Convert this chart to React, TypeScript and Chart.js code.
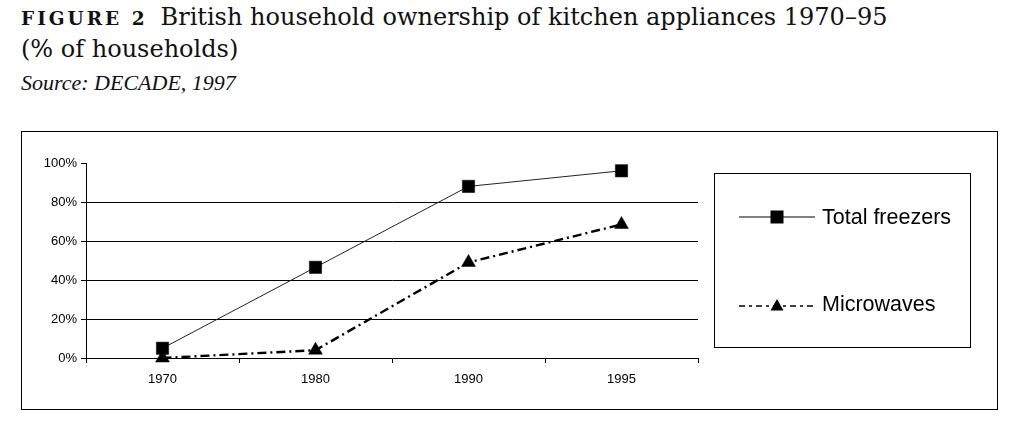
import React, { useEffect, useRef } from "react";
import { Chart, registerables } from "chart.js";

Chart.register(...registerables);

const categories = ["1970", "1980", "1990", "1995"];
const freezers = [5, 46.5, 88, 96];
const microwaves = [0, 4, 49, 68.5];
const yTicks = [0, 20, 40, 60, 80, 100];

export default function App() {
  const ref = useRef<HTMLCanvasElement | null>(null);

  useEffect(() => {
    if (!ref.current) return;
    const chart = new Chart(ref.current, {
      type: "line",
      data: {
        labels: categories,
        datasets: [
          {
            label: "Total freezers",
            data: freezers,
            borderColor: "#222",
            borderWidth: 1,
            pointStyle: "rect",
            pointRadius: 8.7,
            pointBackgroundColor: "#000",
            pointBorderColor: "#000",
            pointBorderWidth: 0.5,
            tension: 0,
            clip: false as any,
          },
          {
            label: "Microwaves",
            data: microwaves,
            borderColor: "#000",
            borderWidth: 2.4,
            borderDash: [9, 4, 2, 4],
            pointStyle: "triangle",
            pointRadius: 8,
            pointBackgroundColor: "#000",
            pointBorderColor: "#000",
            pointBorderWidth: 0.5,
            tension: 0,
            clip: false as any,
          },
        ],
      },
      options: {
        animation: false,
        responsive: false,
        maintainAspectRatio: false,
        layout: { padding: { left: 0, top: 163, right: 317, bottom: 0 } },
        plugins: { legend: { display: false }, tooltip: { enabled: false } },
        scales: {
          x: {
            type: "category",
            offset: true,
            grid: {
              offset: true,
              drawOnChartArea: false,
              drawTicks: true,
              tickLength: 5,
              tickColor: "#000",
              tickWidth: 1,
            },
            border: { color: "#000", width: 1 },
            ticks: {
              color: "#000",
              padding: 9,
              font: { family: "Liberation Sans, Arial, sans-serif", size: 13 },
              maxRotation: 0,
            },
            afterFit: (s: any) => {
              s.height = 69;
            },
          },
          y: {
            min: 0,
            max: 100,
            afterBuildTicks: (s: any) => {
              s.ticks = yTicks.map((v) => ({ value: v }));
            },
            grid: {
              color: (c: any) =>
                c.tick && (c.tick.value === 100 || c.tick.value === 0) ? "rgba(0,0,0,0)" : "#000",
              lineWidth: 1,
              drawTicks: true,
              tickLength: 5,
              tickColor: "#000",
            },
            border: { color: "#000", width: 1 },
            ticks: {
              color: "#000",
              padding: 4,
              font: { family: "Liberation Sans, Arial, sans-serif", size: 13 },
              callback: (v: any) => v + "%",
            },
            afterFit: (s: any) => {
              s.width = 86;
            },
          },
        },
      },
    });
    return () => chart.destroy();
  }, []);

  const serif = "'DejaVu Serif', 'Liberation Serif', serif";
  const sans = "'Liberation Sans', Arial, sans-serif";

  return (
    <div
      style={{
        position: "absolute",
        left: 0,
        top: 0,
        width: 1015,
        height: 427,
        background: "#fff",
        overflow: "hidden",
      }}
    >
      <div
        style={{
          position: "absolute",
          left: 21,
          top: 2,
          fontFamily: serif,
          fontSize: 24,
          lineHeight: "30px",
          color: "#111",
          whiteSpace: "nowrap",
        }}
      >
        <span
          style={{
            fontWeight: "bold",
            fontSize: 18.5,
            letterSpacing: 3,
            marginRight: 13,
          }}
        >
          FIGURE 2
        </span>
        British household ownership of kitchen appliances 1970–95
        <br />
        (% of households)
      </div>
      <div
        style={{
          position: "absolute",
          left: 21,
          top: 70,
          fontFamily: "'Liberation Serif', serif",
          fontStyle: "italic",
          fontSize: 22,
          color: "#111",
          whiteSpace: "nowrap",
        }}
      >
        Source: DECADE, 1997
      </div>
      <div
        style={{
          position: "absolute",
          left: 21,
          top: 131,
          width: 977,
          height: 279,
          border: "1px solid #000",
          boxSizing: "border-box",
        }}
      />
      <canvas
        ref={ref}
        width={1015}
        height={427}
        style={{ position: "absolute", left: 0, top: 0, width: 1015, height: 427 }}
      />
      <div
        style={{
          position: "absolute",
          left: 714,
          top: 173,
          width: 257,
          height: 175,
          border: "1px solid #000",
          boxSizing: "border-box",
          fontFamily: sans,
          fontSize: 21.5,
          color: "#000",
        }}
      >
        <div style={{ position: "absolute", left: 24, top: 31, display: "flex", alignItems: "center" }}>
          <svg width={76} height={16} style={{ display: "block" }}>
            <line x1={0} y1={8} x2={76} y2={8} stroke="#000" strokeWidth={1} />
            <rect x={31.5} y={1.5} width={13} height={13} fill="#000" />
          </svg>
          <span style={{ marginLeft: 7, lineHeight: "24px" }}>Total freezers</span>
        </div>
        <div style={{ position: "absolute", left: 24, top: 118, display: "flex", alignItems: "center" }}>
          <svg width={76} height={16} style={{ display: "block" }}>
            <line x1={0} y1={10} x2={76} y2={10} stroke="#000" strokeWidth={1.5} strokeDasharray="6 4 3 4" />
            <polygon points="31.5,14.5 44.5,14.5 38,3" fill="#000" />
          </svg>
          <span style={{ marginLeft: 7, lineHeight: "24px" }}>Microwaves</span>
        </div>
      </div>
    </div>
  );
}
